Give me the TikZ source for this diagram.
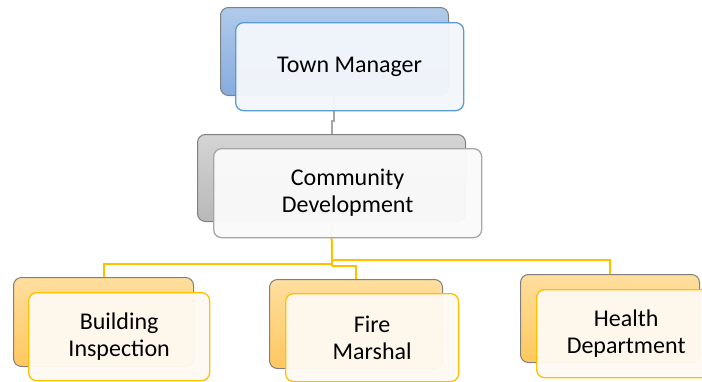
\documentclass[tikz,border=0pt]{standalone}
\usepackage{fontspec}
\setmainfont{Carlito}
\usetikzlibrary{calc}
\definecolor{bluetop}{HTML}{B0CAEA}
\definecolor{bluebot}{HTML}{86ACDE}
\definecolor{blueline}{HTML}{5B9BD5}
\definecolor{bluefill}{HTML}{F3F6FB}
\definecolor{graytop}{HTML}{D4D4D4}
\definecolor{graybot}{HTML}{B8B8B8}
\definecolor{grayline}{HTML}{A6A6A6}
\definecolor{grayfill}{HTML}{FAFAFA}
\definecolor{oratop}{HTML}{FFDE9E}
\definecolor{orabot}{HTML}{FFC860}
\definecolor{oraline}{HTML}{FFC000}
\definecolor{orafill}{HTML}{FEF9F1}
\definecolor{darkedge}{HTML}{7F7F7F}
\tikzset{
  box/.style={rectangle, rounded corners=8pt, anchor=north west, inner sep=0pt, line width=1pt},
  backbox/.style={box, draw=darkedge, top color=#1top, bottom color=#1bot},
  frontbox/.style={box, draw=#1line, line width=1.3pt, fill=#1fill, fill opacity=0.96, text opacity=1,
     align=center, font=\fontsize{24}{27}\selectfont},
  conn/.style={line width=2pt},
}
\begin{document}
\begin{tikzpicture}[x=1pt,y=-1pt]
\useasboundingbox (0,0) rectangle (702,381);
\clip (0,0) rectangle (702,381);
% Town Manager
\node[backbox=blue, minimum width=228pt, minimum height=88pt] (tmb) at (220,7) {};
% Community Development back
\node[backbox=gray, minimum width=268pt, minimum height=87pt] (cdb) at (197,134) {};
% gray connector (behind the front boxes)
\draw[conn, grayline] ([xshift=-1pt]tmb.south) -- ++(0,25) -| (cdb.north);
\node[frontbox=blue, minimum width=228pt, minimum height=88pt] (tmf) at (235,22) {Town Manager};
% Departments back boxes
\node[backbox=ora, minimum width=180pt, minimum height=89pt] (bib) at (13,277) {};
\node[backbox=ora, minimum width=173pt, minimum height=89pt] (fmb) at (269,279) {};
\node[backbox=ora, minimum width=179pt, minimum height=88pt] (hdb) at (520,274) {};
% yellow connectors
\coordinate (j1) at (332,260);
\coordinate (j2) at (332,264);
\coordinate (j3) at (332,266);
\draw[conn, oraline] (cdb.south) -- (j1) -| (hdb.north);
\draw[conn, oraline] (j1) -- (j3);
\draw[conn, oraline] (j2) -| (bib.north);
\draw[conn, oraline] (j3) -| (fmb.north);
\node[frontbox=gray, minimum width=268pt, minimum height=89pt] (cdf) at (213,148) {Community\\Development};
% front boxes
\node[frontbox=ora, minimum width=181pt, minimum height=88pt] (bif) at (28,292) {Building\\Inspection};
\node[frontbox=ora, minimum width=173pt, minimum height=88pt] (fmf) at (285,293) {Fire\\Marshal};
\node[frontbox=ora, minimum width=179pt, minimum height=88pt] (hdf) at (536,289) {Health\\Department};
\end{tikzpicture}
\end{document}
